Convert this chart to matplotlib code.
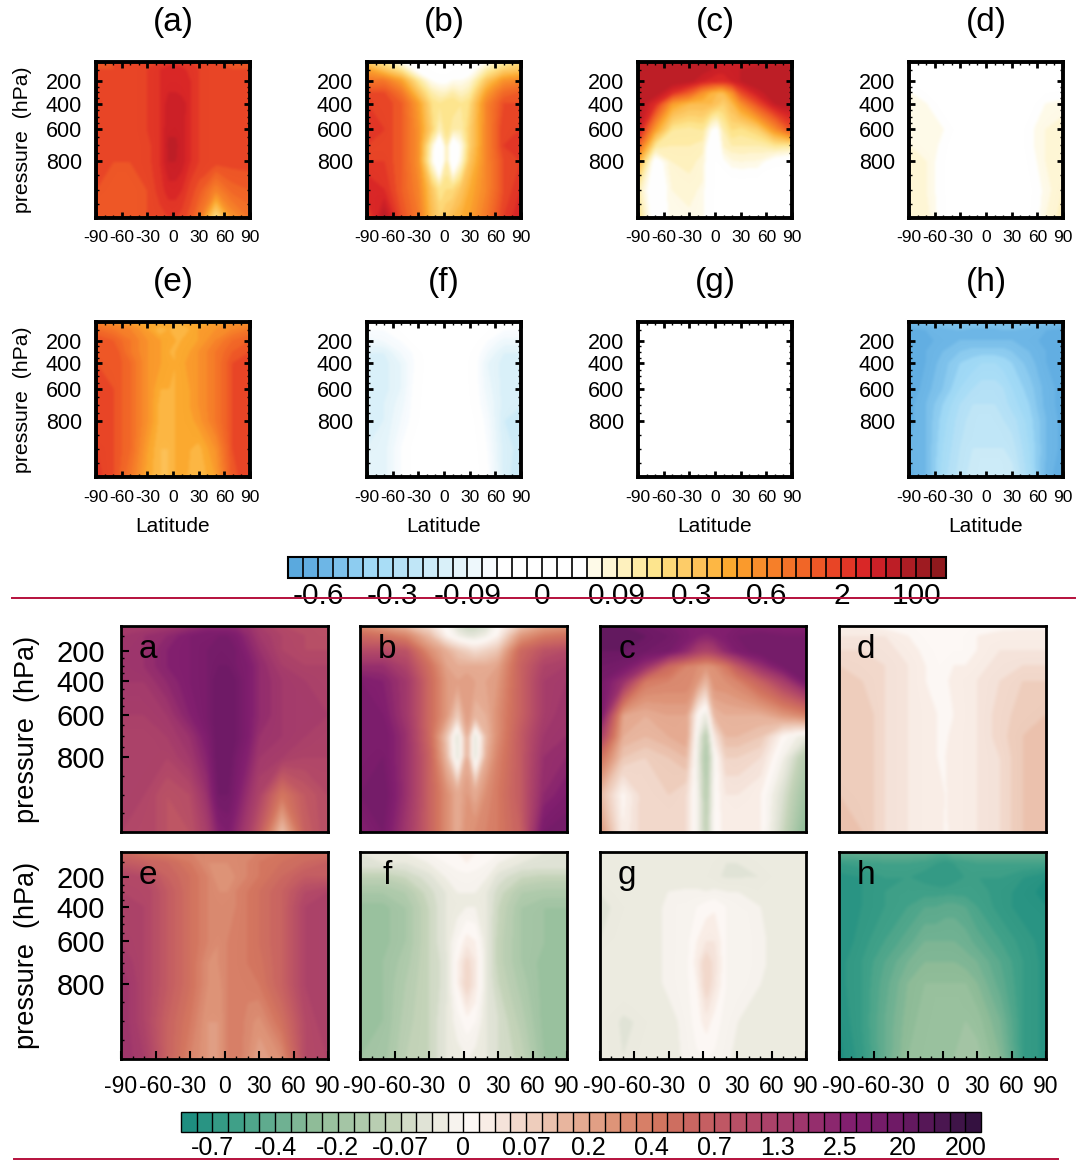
import matplotlib
matplotlib.use('Agg')
import matplotlib.pyplot as plt
import numpy as np
from matplotlib.colors import BoundaryNorm, ListedColormap, LinearSegmentedColormap
from matplotlib.cm import ScalarMappable
from matplotlib.lines import Line2D

plt.rcParams['font.family'] = ['Liberation Sans', 'DejaVu Sans']

W, H = 1078, 1162

# grid of the zonal means, values are read as positions on the colour bars
lat = [-90, -70, -50, -30, -15, -5, 3, 10, 20, 30, 50, 70, 90]
pres = [30, 100, 200, 300, 400, 600, 700, 800, 900, 1000]

# upper figure, position on the 44 box bar (white is 14 to 20)
a_top = [
    [36, 36, 36.5, 37, 37, 37.5, 37.5, 37, 37, 36.5, 36, 36, 36],
    [36, 36, 37, 37, 38, 38.5, 38.5, 38.5, 37.5, 37, 36.5, 36, 36],
    [36.5, 37, 37, 37, 38, 38.5, 38.5, 38.5, 38, 37, 36.5, 36.5, 36.5],
    [37, 37, 37, 37, 38, 39, 39, 38.5, 38, 37, 36.5, 36.5, 36.5],
    [37, 37, 37, 37, 38, 39.5, 39.8, 39.8, 38, 37, 36.5, 36.5, 36.5],
    [36.5, 36.5, 36.5, 37, 38, 39.8, 39.8, 39.5, 38, 37, 36.5, 36.5, 36.5],
    [36.5, 36.5, 36.5, 36.5, 38, 40.2, 40.2, 39.5, 38, 37, 36.5, 36.5, 36.5],
    [36.5, 36, 36, 36.5, 38, 40, 40, 39.5, 38, 37, 36.5, 36.5, 36.5],
    [36, 36, 36, 36, 37.5, 38.5, 38.5, 38, 36.5, 35.5, 32, 34.5, 35],
    [36, 36, 36, 36, 36.5, 37, 37, 36.5, 35.5, 33, 24, 31, 33],
]
b_top = [
    [26, 24, 20, 17, 17, 15, 15, 16, 17, 17, 20, 23, 25],
    [30, 27, 24, 18, 17, 17, 17, 17, 17, 18, 23, 26, 27],
    [33, 33, 30, 24, 20, 19, 19, 20, 20, 21, 27, 31, 32],
    [36, 36, 33, 27, 23, 22, 22, 23, 22, 23, 30, 34, 35],
    [37, 37, 35, 30, 25, 24, 25, 25, 24, 25, 32, 36, 36],
    [38, 37, 35, 31, 26, 22, 25, 23, 23, 26, 32, 37, 37],
    [37, 37, 35, 31, 22, 14, 23, 15, 20, 26, 32, 37, 37.5],
    [37, 37, 35, 31, 21, 13, 23, 15, 21, 27, 32, 36, 37],
    [39, 38, 35, 32, 27, 24, 25, 25, 27, 29, 32, 36, 38],
    [36, 41, 36, 33, 28, 26, 27, 28, 29, 30, 33, 37, 39],
]
c_top = [
    [41, 41, 41, 41, 41, 40, 40, 40, 40, 40, 39, 39, 39],
    [41, 41, 41, 41, 40.5, 40, 39.5, 39.5, 40, 40, 41, 41, 41],
    [41, 41, 41, 40.5, 39, 38.5, 38, 38, 39, 40, 41, 41, 41],
    [41, 41, 38, 35, 31, 29, 28, 28, 31, 36, 39.5, 41, 41],
    [41, 38, 30, 28, 28, 28, 27, 26, 28, 31, 36, 40, 41],
    [40, 30, 24, 23.5, 24, 20, 19, 23, 25, 24.5, 26, 31, 36],
    [35, 24, 23, 23, 22.5, 17, 16, 22, 23, 23, 23, 24, 24],
    [29, 18, 22, 22.5, 21.5, 17, 17, 19.5, 20.8, 21, 20.8, 18.5, 17],
    [23, 17, 21, 21.3, 20.8, 17, 17, 17, 17, 17, 17, 17, 17],
    [25, 17.5, 20.8, 20.8, 20.6, 17, 16.5, 17, 17, 17, 17, 17, 15.5],
]
d_top = [
    [17, 17, 17, 17, 17, 17, 17, 17, 17, 17, 17, 17, 17],
    [17, 17, 17, 17, 17, 17, 17, 17, 17, 17, 17, 17, 17],
    [17.5, 17, 17, 17, 17, 17, 17, 17, 17, 17, 17, 17, 17],
    [20, 19.5, 18, 17, 17, 17, 17, 17, 17, 17, 17, 18, 18.5],
    [20.5, 20, 19, 17, 17, 17, 17, 17, 17, 17, 18, 20, 20.5],
    [21, 21, 20, 17, 17, 17, 17, 17, 17, 17, 19.5, 21, 21.5],
    [21, 21, 19.5, 17, 17, 17, 17, 17, 17, 17, 19.5, 21, 21.5],
    [21.5, 21, 19, 17, 17, 17, 17, 17, 17, 17, 19, 21, 21.5],
    [21.5, 21, 19, 17, 17, 17, 17, 17, 17, 17, 18, 20.5, 22],
    [21.5, 21.5, 19, 17, 17, 17, 17, 17, 17, 17, 18, 21, 22.5],
]
e_top = [
    [32, 31, 30, 30, 30, 30, 29, 29, 30, 30, 30, 31, 31],
    [34, 33, 32, 30, 28, 29, 28.5, 28.5, 29, 30, 31, 32, 33],
    [36, 35, 33, 31, 30, 29.5, 29, 29, 29.5, 30, 32, 34, 35],
    [36, 36, 33, 31, 30, 29, 29, 29.5, 30, 31, 33, 35, 36],
    [36, 36, 34, 31, 30, 29.5, 29, 29.5, 30.5, 31, 33, 36, 36.5],
    [36.5, 36, 34, 31, 29, 29, 29, 29.5, 30, 31, 33, 36, 37],
    [37, 36, 34, 31, 28.5, 28.5, 29, 29.5, 30, 31, 33, 36, 37],
    [37, 36, 34, 31, 28.5, 28.5, 29, 29.5, 29.5, 30.5, 33, 36, 37],
    [37, 36, 34, 30, 28, 28, 29, 30, 29, 28.5, 31, 36, 37],
    [37.5, 36, 33, 29.5, 28, 28, 29, 30, 28.5, 28, 30, 35.5, 37],
]
f_top = [
    [15, 15, 16, 17, 17, 17, 17, 17, 17, 17, 16, 15, 15],
    [14, 14, 15, 16, 17, 17, 17, 17, 17, 16, 15, 14, 14],
    [12.5, 13, 14, 15, 17, 17, 17, 17, 17, 16, 14, 12.5, 12.5],
    [11, 11, 13, 14.5, 16, 17, 17, 17, 17, 15.5, 13, 11, 11],
    [10.5, 10.5, 12, 14.5, 17, 17, 17, 17, 17, 15.5, 12, 10.5, 10.5],
    [10.5, 10.5, 12, 15, 17, 17, 17, 17, 17, 15.5, 12.5, 10.5, 10],
    [10.5, 11, 12.5, 15, 17, 17, 17, 17, 17, 15.5, 13, 10.5, 10],
    [11, 11, 13, 15, 17, 17, 17, 17, 17, 16, 13.5, 10, 9.5],
    [11, 11.5, 14, 15, 17, 17, 17, 17, 17, 16, 14, 10.5, 9.5],
    [11, 11.5, 14, 15.5, 17, 17, 17, 17, 17, 16.5, 14.5, 10.5, 9],
]
g_top = [
    [17, 17, 17, 17, 17, 17, 17, 17, 17, 17, 17, 17, 17],
    [17, 17, 17, 17, 17, 17, 17, 17, 17, 17, 17, 17, 17],
    [17, 17, 17, 17, 17, 17, 17, 17, 17, 17, 17, 17, 17],
    [17, 17, 17, 17, 17, 17, 17, 17, 17, 17, 17, 17, 17],
    [17, 17, 17, 17, 17, 17, 17, 17, 17, 17, 17, 17, 17],
    [17, 17, 17, 17, 17, 17, 17, 17, 17, 17, 17, 17, 17],
    [17, 17, 17, 17, 17, 17, 17, 17, 17, 17, 17, 17, 17],
    [17, 17, 17, 17, 17, 17, 17, 17, 17, 17, 17, 17, 17],
    [17, 17, 17, 17, 17, 17, 17, 17, 17, 17, 17, 17, 17],
    [17, 17, 17, 17, 17, 17, 17, 17, 17, 17, 17, 17, 17],
]
h_top = [
    [3, 3.5, 4, 4, 4, 4, 4, 4, 4, 4, 4, 3.5, 3],
    [1.5, 2, 2.5, 3, 2.5, 2.5, 2.5, 2.5, 3, 3, 2.5, 2, 1.5],
    [1, 1.5, 2.5, 3, 3, 3, 3, 3, 3, 3, 2.5, 1.5, 1],
    [1, 2, 3, 4, 4.5, 4.5, 4.5, 4.5, 4.5, 4, 3, 2, 1],
    [1, 2, 3.5, 5, 5.5, 6, 6, 6, 5.5, 5, 3.5, 2, 1.5],
    [1, 2.5, 4, 6, 7, 7.5, 7.5, 7.5, 7, 6, 4.5, 2.5, 1.5],
    [1.5, 3, 5, 7, 8, 8, 8, 8, 7.5, 6.5, 5, 2.5, 1.5],
    [1.5, 3, 5.5, 7.5, 8.5, 8.5, 8.5, 8.5, 8, 7.5, 5.5, 3, 1.5],
    [2, 3, 6, 8, 9, 9, 9, 9, 9, 8.5, 6, 3, 1.5],
    [1.5, 3, 6.5, 8.5, 9.5, 9.5, 9.5, 9.5, 9.5, 9.5, 6.5, 2.5, 1],
]

# lower figure, position on the 51 box bar (white is about 18)
a_bot = [
    [38, 38, 39, 40, 41, 41, 41, 41, 40, 38, 36, 36, 36],
    [39, 40, 41, 43, 44, 44, 44, 43, 41, 39, 37, 36, 36],
    [40, 40, 42, 43, 44, 45, 45, 44, 42, 40, 37, 36, 36],
    [40, 40, 42, 43, 44, 45, 45, 44, 43, 41, 38, 37, 37],
    [39, 39, 41, 43, 44, 46, 46, 45, 43, 41, 39, 38, 38],
    [38, 38, 39, 42, 44, 46, 46, 45, 43, 41, 39, 39, 38],
    [38, 38, 38, 40, 43, 46, 46, 45, 43, 40, 39, 38, 38],
    [38, 38, 37, 39, 42, 46, 46, 44, 42, 39, 38, 37, 37],
    [38, 37, 35, 36, 40, 45, 45, 43, 40, 37, 30, 34, 36],
    [37, 37, 35, 35, 38, 42, 43, 41, 38, 34, 23, 33, 36],
]
b_bot = [
    [28, 26, 24, 21, 18, 15, 14, 14, 15, 18, 23, 26, 27],
    [32, 31, 29, 24, 19, 17, 16, 16, 17, 19, 27, 30, 31],
    [36, 36, 35, 28, 25, 23, 22, 21, 22, 23, 32, 35, 36],
    [40, 40, 37, 31, 26, 25, 25, 25, 25, 26, 33, 37, 38],
    [43, 42, 39, 32, 27, 26, 27, 26, 26, 27, 33, 38, 39],
    [44, 43, 39, 32, 27, 22, 27, 24, 25, 28, 33, 38, 40],
    [44, 44, 40, 32, 23, 15, 25, 15, 24, 28, 34, 39, 40],
    [44, 44, 40, 33, 24, 15, 25, 15, 25, 29, 34, 40, 41],
    [44, 45, 40, 33, 28, 25, 27, 25, 28, 30, 34, 41, 43],
    [42, 44, 39, 33, 28, 25, 28, 28, 29, 30, 33, 44, 45],
]
c_bot = [
    [46, 46, 45, 44, 43, 43, 43, 43, 43, 43, 42, 42, 42],
    [47, 47, 46, 45, 43.5, 42, 41.5, 42, 43, 44, 45, 44, 44],
    [46, 46, 45, 44, 41, 38, 37, 38, 41, 43, 45, 45, 45],
    [45, 44, 40, 32, 29, 28, 27, 28, 30, 34, 40, 44, 45],
    [44, 40, 30, 29, 29, 27, 24, 28, 28, 29, 33, 38, 44],
    [44, 26, 25, 26, 26, 18.5, 16, 24, 25, 25, 25, 27, 29],
    [38, 25, 24, 25, 26, 17, 12, 20, 24, 24, 23, 18.5, 16],
    [31, 23, 22, 23, 24, 16.5, 11, 17.5, 22, 22, 21, 17, 12],
    [24, 18.5, 22, 22, 21, 17, 12, 18, 20, 20, 19, 15, 10],
    [27, 19, 22, 22, 21, 17, 13, 18, 19.5, 19.5, 19, 14, 8],
]
d_bot = [
    [19, 19, 18.5, 18.5, 18.5, 18.5, 18.5, 18.5, 18.5, 18.5, 18.5, 18.5, 18.5],
    [20, 20, 20, 19, 18.5, 18.5, 18.5, 18.5, 18.5, 19, 19.5, 20, 20],
    [21, 21, 20.5, 19.5, 18.7, 18.5, 18.5, 18.5, 18.7, 19, 20, 20, 20],
    [22, 22, 21, 20, 19, 18.7, 18.7, 19, 19, 19.5, 20.5, 21, 21],
    [22.5, 22, 21, 20, 19, 18.7, 18.7, 19.5, 19.5, 20, 21, 22, 22],
    [23, 23, 21, 20, 19.5, 19, 18.7, 19, 19.5, 20, 21.5, 22.5, 23],
    [23, 23, 21, 20, 19.5, 19, 18.7, 19.5, 19.5, 20, 21.5, 23, 23.5],
    [23, 23, 21, 20, 19.5, 19, 19, 19.5, 19.5, 20, 21, 23, 23.5],
    [23, 23, 21, 20, 20, 19.5, 18.9, 19.5, 20, 20, 21, 23, 24],
    [23.5, 23, 21, 20, 20, 19.5, 18.8, 19.5, 20, 20, 21, 23, 24],
]
e_bot = [
    [32, 30, 29, 29, 29, 29, 29, 29, 29, 29, 30, 31, 31],
    [34, 33, 32, 30, 28, 28, 28, 29, 29, 30, 31, 32, 33],
    [37, 36, 33, 31, 29, 27, 27, 28, 29, 30, 32, 34, 34],
    [37, 37, 34, 31, 29, 28, 28, 29, 30, 31, 33, 36, 37],
    [38, 37, 34, 31, 29, 28.5, 29, 29, 30, 31, 33, 37, 38],
    [38, 37, 34, 31, 29, 28, 29, 29.5, 30, 31, 33, 37, 38],
    [39, 37, 34, 31, 28, 28, 29, 29.5, 30, 30.5, 33, 37, 38],
    [40, 37, 34, 31, 28, 27.5, 29, 29.5, 29.5, 30, 33, 37, 38],
    [40, 37, 33, 30, 27, 27, 29, 30, 28.5, 27.5, 31, 36, 38],
    [40, 38, 33, 29, 27, 27, 29, 30, 28, 26, 28, 36, 37],
]
f_bot = [
    [16, 16.5, 17, 18, 18.5, 19, 19.5, 19, 18.5, 18, 17, 16, 16],
    [16, 16, 16, 17, 18, 18.5, 19, 18.5, 18, 17, 16, 16, 16],
    [13, 13, 14, 15.5, 17, 17.5, 17.5, 17.5, 17, 15.5, 14, 13.5, 13.5],
    [11, 11, 12, 14.5, 16, 17, 17, 17, 16, 14.5, 12, 11.5, 11.5],
    [9.5, 9.5, 11, 14, 16, 16.5, 17, 17, 16, 14, 11, 10, 10],
    [9.5, 9.5, 11, 14, 16, 18, 19.5, 19, 16, 13.5, 11, 10, 9.5],
    [9.5, 10, 11.5, 14, 15.5, 19, 21.5, 20, 16, 13.5, 11, 9.5, 9],
    [9.5, 10, 12, 14, 15.5, 19, 22, 20, 16, 14, 11.5, 9.5, 9],
    [10, 10, 12.5, 14, 16, 17.5, 18.5, 18, 16, 15, 12.5, 9.5, 9],
    [10, 10.5, 13, 14, 16, 16.5, 17, 16.5, 16, 15, 13.5, 10, 9],
]
g_bot = [
    [16.5, 16.5, 16.5, 16.5, 16.5, 16.5, 16.5, 16.5, 16.5, 16.5, 16.5, 16.5, 16.5],
    [16.4, 16.5, 16.5, 16.4, 16.4, 16.4, 16.4, 16.4, 16, 16, 16.4, 16.5, 16.5],
    [16.2, 16.2, 16.4, 16.4, 16.1, 16.1, 16.1, 16.1, 15.9, 15.9, 16, 16.2, 16],
    [16, 16.4, 16.4, 17, 17.2, 17.2, 17, 17.2, 17, 17, 16.4, 16.4, 16.1],
    [15.8, 16.2, 16.4, 17.2, 17.5, 18, 18.5, 18.8, 18, 17.3, 17, 16.4, 16.4],
    [16, 16.2, 16.4, 17.2, 17.5, 19, 20, 20, 18, 17.5, 17.2, 16.4, 16.4],
    [16.4, 16.4, 16.4, 17.2, 17.5, 19.5, 22, 20.5, 18, 17.5, 17.2, 16.4, 16.4],
    [16.4, 16.4, 16.4, 17.2, 17.6, 19, 22, 20.2, 18, 17.5, 17, 16.4, 16.4],
    [16.4, 15.9, 16.1, 16.6, 17.3, 18.5, 19.5, 18.5, 17.5, 17, 16.4, 16.4, 16.4],
    [16.4, 16, 16.1, 16.4, 17.2, 17.8, 18, 17.8, 17.3, 16.5, 16.4, 16.4, 16.4],
]
h_bot = [
    [6, 6, 6, 6, 6, 5, 5, 6, 6, 6, 6, 6, 6],
    [3, 3.5, 4, 4, 3.5, 3, 2.5, 3, 3.5, 4, 4, 4, 4],
    [1.5, 2, 3, 3, 2.5, 2, 2, 2.5, 3, 3, 3, 2, 1],
    [1, 2, 3, 3.5, 3.5, 3.5, 3.5, 3.5, 3.5, 3.5, 2.5, 1.5, 0.5],
    [1, 2, 3, 4, 5, 5, 5.5, 5.5, 5, 4, 2.5, 1.5, 1],
    [1, 2.5, 4, 5.5, 7, 7, 7, 7, 6.5, 5.5, 4, 2.5, 1.5],
    [1.5, 3, 5, 7, 8, 8, 8, 8, 7.5, 7, 5, 3, 1.5],
    [1.5, 3, 5.5, 8, 9, 9, 9, 9, 9, 8, 5.5, 3, 1.5],
    [1, 3, 6, 8.5, 9.5, 10, 10, 10, 10, 9.5, 7, 3, 1.5],
    [0.5, 2.5, 6, 9, 10, 10, 10, 10, 10.5, 10.5, 8, 3, 1.5],
]

top_panels = [a_top, b_top, c_top, d_top, e_top, f_top, g_top, h_top]
bot_panels = [a_bot, b_bot, c_bot, d_bot, e_bot, f_bot, g_bot, h_bot]
top_titles = ['(a)', '(b)', '(c)', '(d)', '(e)', '(f)', '(g)', '(h)']
bot_titles = ['a', 'b', 'c', 'd', 'e', 'f', 'g', 'h']

lat_ticks = [-90, -60, -30, 0, 30, 60, 90]
lat_labels = ['-90', '-60', '-30', '0', '30', '60', '90']
p_ticks = [200, 400, 600, 800]
p_minor = [100, 250, 300, 350, 450, 500, 550, 650, 700, 750, 850, 900, 950]

top_bar_pos = [2, 7, 12, 17, 22, 27, 32, 37, 42]
top_bar_labels = ['-0.6', '-0.3', '-0.09', '0', '0.09', '0.3', '0.6', '2', '100']
bot_bar_pos = [2, 6, 10, 14, 18, 22, 26, 30, 34, 38, 42, 46, 50]
bot_bar_labels = ['-0.7', '-0.4', '-0.2', '-0.07', '0', '0.07', '0.2', '0.4', '0.7',
                  '1.3', '2.5', '20', '200']

top_colors = ['#5AA9DE', '#62AEE2', '#6DB6E6', '#7DC1EB', '#8DCCF0', '#A0D9F6', '#A9DDF6',
              '#B5E1F6', '#C0E6F7', '#CCEBF8', '#D9F0F9', '#E4F4FA', '#EEF8FC', '#F7FBFE',
              '#FFFFFF', '#FFFFFF', '#FFFFFF', '#FFFFFF', '#FFFFFF', '#FFFFFF',
              '#FEFAE8', '#FEF6D5', '#FEF1BE', '#FEEBA5', '#FDE58E', '#FDD878', '#FDCC68',
              '#FDC158', '#FDB744', '#FBA92F', '#FA9A2C', '#F88D2B', '#F67F29', '#F47228',
              '#F16627', '#EE5726', '#E84526', '#E23626', '#D92727', '#CC2027', '#BD1E26',
              '#AD1D24', '#9E1B21', '#8F191D']
top_cmap = ListedColormap(top_colors)
top_norm = BoundaryNorm(np.arange(45), 44)

bot_anchor = [(0, '#1E8E80'), (3, '#3FA088'), (8, '#8FBC98'), (13, '#C3D3B8'), (15, '#E0E3D6'),
              (16, '#ECEBE0'), (17, '#F7F3EE'), (18, '#FDF8F5'), (19, '#F9EDE6'), (20, '#F5E3DA'),
              (22, '#EECDBC'), (24, '#E8B59E'), (27, '#DE9478'), (30, '#D3755F'), (33, '#C55F62'),
              (36, '#B24868'), (39, '#9E366C'), (42, '#821F6F'), (45, '#6F1A66'), (48, '#4A1650'),
              (50, '#341140')]
bot_cmap = LinearSegmentedColormap.from_list('curl', [(k / 50, c) for k, c in bot_anchor], N=51)
bot_norm = BoundaryNorm(np.arange(52), 51)


def p_to_y(p):
    return np.interp(p, [30, 200, 400, 600, 800, 1000], [0, 0.121, 0.267, 0.432, 0.636, 1.0])


def y_to_p(y):
    return np.interp(y, [0, 0.121, 0.267, 0.432, 0.636, 1.0], [30, 200, 400, 600, 800, 1000])


def soften(passes):
    # the reference is a blurry scan, so soften the filled contours a little
    def agg(img, dpi):
        out = img.copy()
        for _ in range(passes):
            p = np.pad(out, ((1, 1), (1, 1), (0, 0)), mode='edge')
            out = (p[:-2, 1:-1] + p[2:, 1:-1] + p[1:-1, :-2] + p[1:-1, 2:] + 4 * p[1:-1, 1:-1]) / 8
        return out, 0, 0
    return agg


def box(fig, x0, y0, x1, y1):
    return fig.add_axes([x0 / W, 1 - y1 / H, (x1 - x0) / W, (y1 - y0) / H])


def draw_field(ax, vals, cmap, norm, nlev, lw, passes):
    cs = ax.contourf(lat, pres, np.array(vals), levels=np.arange(nlev + 1), cmap=cmap, norm=norm,
                     extend='both')
    cs.set_agg_filter(soften(passes))
    ax.set_yscale('function', functions=(p_to_y, y_to_p))
    ax.set_xlim(-90, 90)
    ax.set_ylim(1000, 30)
    for sp in ax.spines.values():
        sp.set_linewidth(lw)


fig = plt.figure(figsize=(W / 100, H / 100), dpi=100)

# upper figure
top_x = [(96, 250), (367, 521), (638, 792), (909, 1063)]
top_y = [(62, 218), (322, 477)]
for i, vals in enumerate(top_panels):
    x0, x1 = top_x[i % 4]
    y0, y1 = top_y[i // 4]
    ax = box(fig, x0, y0, x1, y1)
    draw_field(ax, vals, top_cmap, top_norm, 44, 2.8, 10)
    ax.set_xticks(lat_ticks, lat_labels, fontsize=12.5)
    ax.set_xticks(np.arange(-90, 91, 10), minor=True)
    ax.set_yticks(p_ticks, [str(p) for p in p_ticks], fontsize=15.5)
    ax.set_yticks(p_minor, minor=True)
    ax.yaxis.set_minor_formatter(plt.NullFormatter())
    ax.tick_params(which='major', direction='in', length=4, width=2, top=True, right=True)
    ax.tick_params(which='minor', direction='in', length=2, width=1, top=True, right=True)
    ax.tick_params(axis='x', which='major', pad=9)
    ax.tick_params(axis='y', which='major', pad=10)
    fig.text((x0 + x1) / 2 / W, 1 - (y0 - 39) / H, top_titles[i], fontsize=24, ha='center', va='center')
    if i // 4 == 1:
        fig.text((x0 + x1) / 2 / W, 1 - 526 / H, 'Latitude', fontsize=15, ha='center', va='center')
    if i % 4 == 0:
        fig.text(23 / W, 1 - (y0 + 78) / H, 'pressure  (hPa)', fontsize=15.3, rotation=90,
                 ha='center', va='center')

cax = box(fig, 288, 557, 946, 578)
cb = fig.colorbar(ScalarMappable(norm=top_norm, cmap=top_cmap), cax=cax, orientation='horizontal',
                  drawedges=True)
cb.set_ticks(top_bar_pos, labels=top_bar_labels)
cb.minorticks_off()
cax.tick_params(length=0, labelsize=21.5, pad=3)
cb.outline.set_linewidth(1.5)
cb.dividers.set_linewidth(1.2)

# lower figure
bot_x = [(121, 328), (360, 567), (600, 806), (839, 1046)]
bot_y = [(626, 832), (852, 1059)]
for i, vals in enumerate(bot_panels):
    x0, x1 = bot_x[i % 4]
    y0, y1 = bot_y[i // 4]
    ax = box(fig, x0, y0, x1, y1)
    draw_field(ax, vals, bot_cmap, bot_norm, 51, 2.0, 14)
    if i // 4 == 1:
        ax.set_xticks(lat_ticks, lat_labels, fontsize=16.5)
        ax.set_xticks(np.arange(-90, 91, 10), minor=True)
    else:
        ax.set_xticks([])
    if i % 4 == 0:
        ax.set_yticks(p_ticks, [str(p) for p in p_ticks], fontsize=21)
        ax.set_yticks(p_minor, minor=True)
        ax.yaxis.set_minor_formatter(plt.NullFormatter())
    else:
        ax.set_yticks([])
        ax.set_yticks([], minor=True)
    ax.tick_params(which='major', direction='in', length=6, width=1.5)
    ax.tick_params(which='minor', direction='in', length=2, width=1)
    ax.tick_params(axis='x', which='major', pad=11.5)
    ax.tick_params(axis='y', which='major', pad=11.5)
    ax.text(0.13, 0.885, bot_titles[i], transform=ax.transAxes, fontsize=24,
            ha='center', va='center')
    if i % 4 == 0:
        fig.text(27 / W, 1 - (y0 + 103) / H, 'pressure  (hPa)', fontsize=19.5, rotation=90,
                 ha='center', va='center')

cax = box(fig, 181, 1112, 981, 1132)
cb = fig.colorbar(ScalarMappable(norm=bot_norm, cmap=bot_cmap), cax=cax, orientation='horizontal',
                  drawedges=True)
cb.set_ticks(bot_bar_pos, labels=bot_bar_labels)
cb.minorticks_off()
cax.tick_params(length=0, labelsize=18, pad=3)
cb.outline.set_linewidth(1.0)
cb.dividers.set_linewidth(1.0)

# red rules
fig.add_artist(Line2D([12 / W, 1075 / W], [1 - 598 / H, 1 - 598 / H], color='#B5103C', lw=1.4, zorder=10))
fig.add_artist(Line2D([14 / W, 1058 / W], [1 - 1159 / H, 1 - 1159 / H], color='#B5103C', lw=1.4, zorder=10))

fig.savefig('out.png', dpi=100)
